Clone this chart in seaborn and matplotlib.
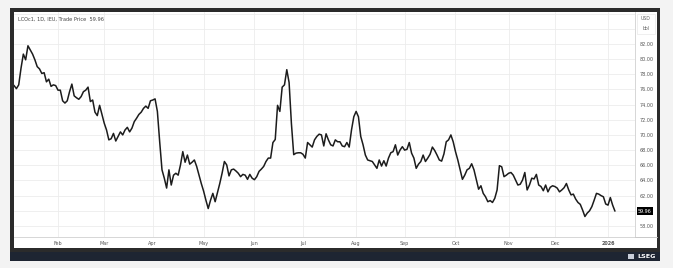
import numpy as np
import pandas as pd
import matplotlib
matplotlib.use("Agg")
import matplotlib.pyplot as plt
import seaborn as sns
from matplotlib.patches import Rectangle
from matplotlib.lines import Line2D

# ---------------- data ----------------
header = "LCOc1, 1D, IEU, Trade Price  59.96"
unit_top, unit_bottom = "USD", "bbl"
brand = "LSEG"
start_date = "2025-01-06"

price_jan_mar = [76.8, 76.5, 76.1, 76.6, 78.8, 80.65, 79.9, 81.75, 81.2, 80.65, 79.9, 79.0, 78.7,
                 78.1, 78.2, 77.0, 77.35, 76.4, 76.6, 76.5, 75.9, 75.9, 74.5, 74.2, 74.5, 75.7,
                 76.7, 75.15, 74.9, 74.7, 75.05, 75.7, 75.9, 76.3, 74.4, 74.6, 73.0, 72.55, 73.9,
                 72.7, 71.55, 70.65, 69.35, 69.5, 70.2, 69.2, 69.8, 70.4, 70.0, 70.65, 71.0]
price_mar_jun = [70.4, 70.9, 71.75, 72.2, 72.7, 73.0, 73.5, 73.8, 73.5, 74.5, 74.6, 74.75, 73.1,
                 69.1, 65.4, 64.3, 63.0, 65.4, 63.4, 64.7, 64.95, 64.7, 66.05, 67.8, 66.4, 67.35,
                 66.15, 66.4, 66.7, 65.85, 64.7, 63.6, 62.6, 61.4, 60.3, 61.4, 62.3, 61.2, 62.4,
                 63.6, 64.95, 66.5, 66.05, 64.6, 65.4, 65.5, 65.25, 64.95, 64.5, 64.8, 64.7, 64.15,
                 64.8, 64.3, 64.1, 64.5]
price_jun_aug = [65.2, 65.5, 65.85, 66.5, 66.95, 66.95, 69.0, 69.4, 73.9, 73.1, 76.3, 76.6, 78.6,
                 76.9, 71.5, 67.4, 67.6, 67.65, 67.65, 67.45, 66.95, 69.0, 68.7, 68.4, 69.35, 69.8,
                 70.1, 70.0, 68.55, 70.15, 69.35, 68.7, 68.55, 69.35, 69.1, 69.1, 68.55, 68.45,
                 69.0, 68.4, 70.65, 72.4, 73.1, 72.4, 69.8, 68.7, 67.35, 66.7, 66.6]
price_aug_oct = [66.5, 66.05, 65.6, 66.7, 65.9, 66.6, 65.9, 66.95, 67.65, 67.8, 68.7, 67.35, 68.0,
                 68.45, 68.0, 68.1, 69.0, 67.6, 66.95, 65.6, 66.15, 66.5, 67.35, 66.5, 66.95, 67.45,
                 68.4, 67.95, 67.35, 66.7, 66.55, 67.5, 69.1, 69.35, 70.0, 69.1, 67.8, 66.7, 65.4,
                 64.15, 64.7, 65.4, 65.6, 66.2, 65.4, 64.1, 62.85, 63.3, 62.3, 61.85, 61.2, 61.35,
                 61.1, 61.65, 62.75]
price_oct_jan = [65.95, 65.8, 64.5, 64.7, 64.95, 65.05, 64.7, 64.05, 63.4, 63.5, 64.05, 65.05, 62.75,
                 63.4, 64.3, 64.2, 64.8, 63.4, 63.2, 62.65, 63.4, 62.5, 63.1, 63.3, 63.2, 63.0, 62.5,
                 62.75, 63.05, 63.6, 62.75, 62.1, 62.2, 61.55, 61.1, 60.85, 60.1, 59.25, 59.7, 60.0,
                 60.55, 61.4, 62.3, 62.2, 62.0, 61.85, 60.9, 60.75, 61.75, 60.75, 59.96]

month_labels = ["Feb", "Mar", "Apr", "May", "Jun", "Jul", "Aug", "Sep", "Oct", "Nov", "Dec", "2026"]
y_ticks = list(range(58, 88, 2))
y_labelled = [58, 62, 64, 66, 68, 70, 72, 74, 76, 78, 80, 82]
last_label = "59.96"

prices = price_jan_mar + price_mar_jun + price_jun_aug + price_aug_oct + price_oct_jan
dates = pd.bdate_range(start_date, periods=len(prices))
df = pd.DataFrame({"day": np.arange(len(prices)), "price": prices, "date": dates})
firsts = df.groupby([df.date.dt.year, df.date.dt.month])["day"].min().values[1:]

# ---------------- layout ----------------
W, H = 673, 268
def fx(x): return x / W
def fy(y): return 1 - y / H

sns.set_theme(style="white")
plt.rcParams["font.family"] = ["DejaVu Sans"]

fig = plt.figure(figsize=(W / 100, H / 100), dpi=100, facecolor="#f3f3f3")

def fig_rect(x0, y_top, w, h, **kw):
    r = Rectangle((fx(x0), fy(y_top + h)), w / W, h / H, transform=fig.transFigure, **kw)
    fig.add_artist(r)
    return r

fig_rect(10, 8, 650, 244, fc="#2b2b2b", ec="none", zorder=-5)
fig_rect(10, 252, 650, 9, fc="#1e2532", ec="none", zorder=-4)
fig_rect(14, 12, 643, 236, fc="white", ec="none", zorder=-3)
fig_rect(637, 14, 18, 20, fc="white", ec="#e4e4e4", lw=0.4, zorder=5)

ax = fig.add_axes([fx(14), fy(237), 621 / W, 225 / H])
ax.set_zorder(1)
ax.set_facecolor("none")
sns.lineplot(data=df, x="day", y="price", ax=ax, color="#1c1c1c", lw=1.1)

px_per_day = 2.311
ax.set_xlim(0.96, 0.96 + 621 / px_per_day)
ax.set_ylim(56.55, 86.2)

ax.yaxis.tick_right()
ax.set_yticks(y_ticks)
ax.set_yticklabels([f"{v:.2f}" if v in y_labelled else "" for v in y_ticks])
ax.set_xticks(firsts)
ax.set_xticklabels(month_labels)
for lab in ax.get_xticklabels():
    if lab.get_text() == "2026":
        lab.set_fontweight("bold")
        lab.set_color("#333333")
ax.tick_params(axis="y", length=0, pad=3.0, labelsize=3.5, labelcolor="#555555")
ax.tick_params(axis="x", length=0, pad=2.6, labelsize=3.5, labelcolor="#555555")
ax.set_xlabel("")
ax.set_ylabel("")
ax.grid(True, color="#ececec", lw=0.6)
for s in ["left", "top"]:
    ax.spines[s].set_visible(False)
for s in ["right", "bottom"]:
    ax.spines[s].set_color("#d0d0d0")
    ax.spines[s].set_linewidth(0.6)
fig.add_artist(Line2D([fx(635), fx(657)], [fy(237), fy(237)], color="#c8c8c8", lw=0.7, zorder=6))

ax.text(1 + 3 / 621, prices[-1], last_label, transform=ax.get_yaxis_transform(),
        fontsize=3.5, color="white", va="center", ha="left", clip_on=False,
        bbox=dict(boxstyle="square,pad=0.3", fc="black", ec="none"))

fig.text(fx(18), fy(19), header, fontsize=3.6, color="#444444", va="center", ha="left", zorder=6)
fig.text(fx(646), fy(19), unit_top, fontsize=3.3, color="#666666", va="center", ha="center", zorder=6)
fig.text(fx(646), fy(29), unit_bottom, fontsize=3.3, color="#666666", va="center", ha="center", zorder=6)

fig_rect(628, 254, 6, 5, fc="#c9ced8", ec="none", zorder=6)
fig.text(fx(656), fy(256.5), brand, fontsize=4.6, color="white", fontweight="bold",
         va="center", ha="right", zorder=6)

fig.savefig("out.png", dpi=100, facecolor=fig.get_facecolor())
